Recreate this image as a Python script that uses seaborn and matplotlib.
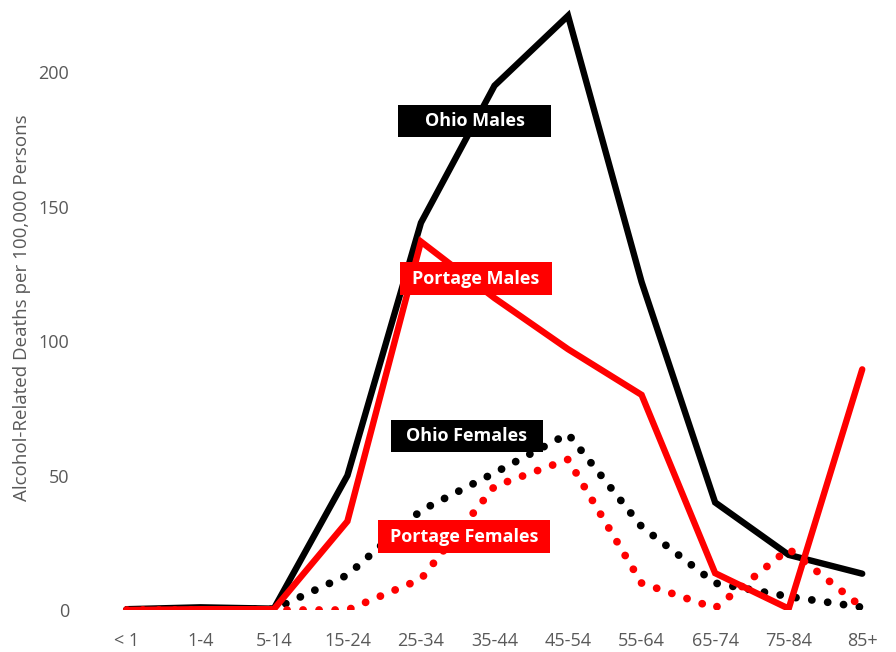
import numpy as np
import pandas as pd
import matplotlib
matplotlib.use("Agg")
import matplotlib.pyplot as plt
from matplotlib.patches import Rectangle
import seaborn as sns

### Data

age_groups = ["< 1", "1-4", "5-14", "15-24", "25-34", "35-44",
              "45-54", "55-64", "65-74", "75-84", "85+"]
ohio_males = [0.3, 1.0, 0.5, 50, 144, 195, 221, 122, 40, 20.5, 13.5]
ohio_females = [0.0, 0.2, 0.3, 13, 37, 51, 65.5, 31, 10, 5, 1]
portage_males = [0.0, 0.3, 0.3, 33, 137, 116, 97, 80, 13.7, 0.5, 89.5]
portage_females = [0.0, 0.0, 0.0, 0.0, 11.5, 46, 56, 10, 0.7, 22.7, 1]

GREY = "#595959"
RED = "#ff0000"

sns.set_theme(style="white")
plt.rcParams["font.family"] = ["Open Sans", "DejaVu Sans"]

W, H = 896, 652
fig = plt.figure(figsize=(W / 100, H / 100), dpi=100)
ax = fig.add_axes([90 / W, (H - 610) / H, (899 - 90) / W, (610 - 5) / H])

pos = np.arange(len(age_groups))

series = [
    (ohio_males, "black", "-"),
    (ohio_females, "black", ":"),
    (portage_females, RED, ":"),
    (portage_males, RED, "-"),
]
for vals, col, ls in series:
    df = pd.DataFrame({"pos": pos, "rate": vals})
    if ls == "-":
        sns.lineplot(data=df, x="pos", y="rate", color=col, linewidth=4.6,
                     ax=ax, sort=False, solid_joinstyle="miter",
                     solid_capstyle="round")
    else:
        sns.lineplot(data=df, x="pos", y="rate", color=col, linewidth=5.6,
                     ax=ax, sort=False, linestyle=(0, (0.01, 2.05)),
                     dash_capstyle="round")

ax.set_xlim(-0.5, len(age_groups) - 0.5)
ax.set_ylim(0, 225)
ax.set_xticks(pos)
ax.set_xticklabels(age_groups)
ax.set_yticks([0, 50, 100, 150, 200])
ax.tick_params(axis="both", colors=GREY, labelsize=13, length=0)
ax.tick_params(axis="x", pad=16)
ax.tick_params(axis="y", pad=15)
ax.set_xlabel("")
ax.set_ylabel("Alcohol-Related Deaths per 100,000 Persons", color=GREY,
              fontsize=13.5, labelpad=5)
for s in ax.spines.values():
    s.set_visible(False)
ax.grid(False)

# label boxes, in pixel coordinates (top-left origin)
boxes = [
    ("Ohio Males", "black", 398, 105, 551, 137),
    ("Portage Males", RED, 400, 262, 552, 295),
    ("Ohio Females", "black", 391, 420, 543, 452),
    ("Portage Females", RED, 378, 520, 550, 553),
]
for txt, col, x0, y0, x1, y1 in boxes:
    fig.patches.append(Rectangle((x0 / W, (H - y1) / H), (x1 - x0) / W,
                                 (y1 - y0) / H, transform=fig.transFigure,
                                 facecolor=col, edgecolor="none", zorder=5))
    fig.text((x0 + x1) / 2 / W, (H - (y0 + y1) / 2) / H, txt, color="white",
             fontsize=13, fontweight="bold", ha="center", va="center",
             zorder=6)

fig.savefig("out.png", dpi=100)
